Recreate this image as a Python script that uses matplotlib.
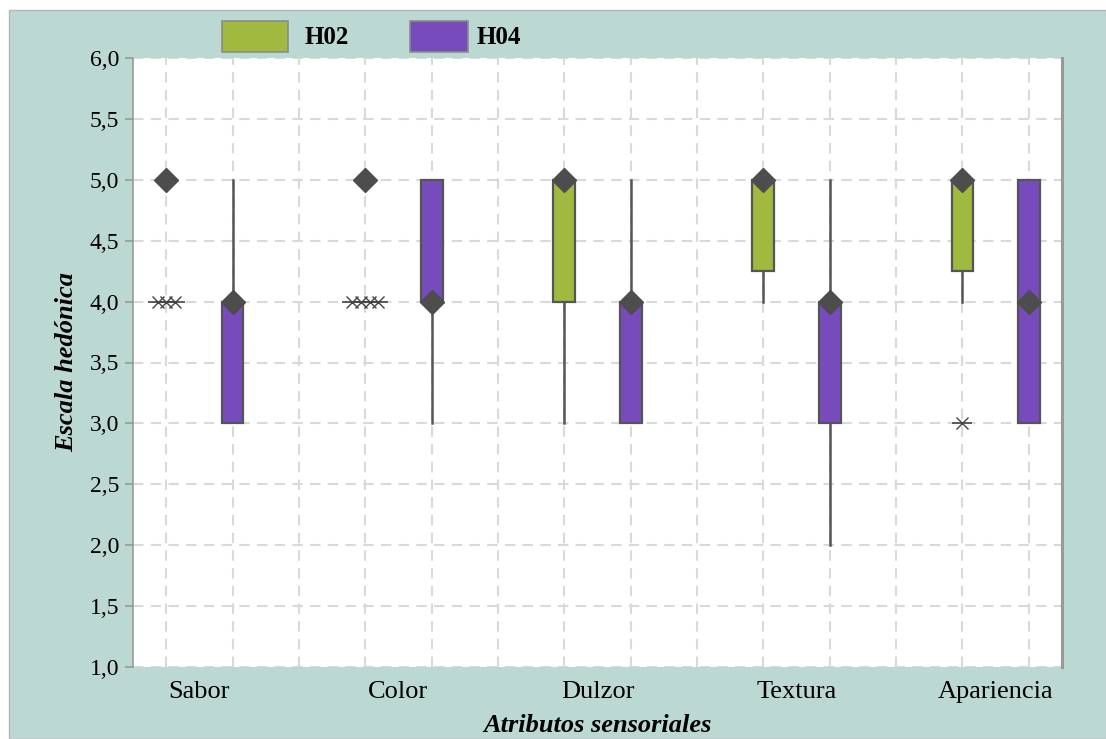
import matplotlib
matplotlib.use("Agg")
import matplotlib.pyplot as plt
from matplotlib.patches import Rectangle
from matplotlib.ticker import FuncFormatter

# Sensory attributes and hedonic-scale summaries for two samples
categories = ["Sabor", "Color", "Dulzor", "Textura", "Apariencia"]
series = ["H02", "H04"]

h02_q1 = [5.0, 5.0, 4.0, 4.25, 4.25]
h02_q3 = [5.0, 5.0, 5.0, 5.0, 5.0]
h02_lo = [5.0, 5.0, 3.0, 4.0, 4.0]
h02_hi = [5.0, 5.0, 5.0, 5.0, 5.0]
h02_center = [5.0, 5.0, 5.0, 5.0, 5.0]
h02_outliers = [[4.0, 4.0, 4.0], [4.0, 4.0, 4.0, 4.0], [], [], [3.0]]

h04_q1 = [3.0, 4.0, 3.0, 3.0, 3.0]
h04_q3 = [4.0, 5.0, 4.0, 4.0, 5.0]
h04_lo = [3.0, 3.0, 3.0, 2.0, 3.0]
h04_hi = [5.0, 5.0, 5.0, 5.0, 5.0]
h04_center = [4.0, 4.0, 4.0, 4.0, 4.0]
h04_outliers = [[], [], [], [], []]

y_ticks = [1.0, 1.5, 2.0, 2.5, 3.0, 3.5, 4.0, 4.5, 5.0, 5.5, 6.0]

colors = {"H02": "#9fba3e", "H04": "#774bbb"}
edge = "#555555"
teal = "#bcd8d3"

plt.rcParams["font.family"] = ["Liberation Serif", "DejaVu Serif"]

W, H = 1106, 739
fig = plt.figure(figsize=(W / 100, H / 100), dpi=100)
fig.patch.set_facecolor("white")

# teal panel behind everything
fig.add_artist(Rectangle((9 / W, 0), 1 - 9 / W, 1 - 10 / H, transform=fig.transFigure,
                         facecolor=teal, edgecolor="#b5b5b5", linewidth=1.0, zorder=-10))

ax = fig.add_axes([133 / W, 1 - 667 / H, (1062 - 133) / W, (667 - 58) / H])
ax.set_zorder(1)
ax.set_facecolor("white")
ax.set_xlim(0, 14)
ax.set_ylim(1.0, 6.0)


def make_stats(q1, q3, lo, hi, center):
    return [dict(q1=a, q3=b, whislo=c, whishi=d, med=e, mean=e, fliers=[])
            for a, b, c, d, e in zip(q1, q3, lo, hi, center)]


groups = {
    "H02": (make_stats(h02_q1, h02_q3, h02_lo, h02_hi, h02_center), h02_outliers),
    "H04": (make_stats(h04_q1, h04_q3, h04_lo, h04_hi, h04_center), h04_outliers),
}

box_w = 0.33
for k, name in enumerate(series):
    stats, outs = groups[name]
    pos = [3 * i + 0.5 + k for i in range(len(categories))]
    ax.bxp(stats, positions=pos, widths=box_w, patch_artist=True,
           showcaps=False, showmeans=True, showfliers=False,
           boxprops=dict(facecolor=colors[name], edgecolor=edge, linewidth=1.6),
           whiskerprops=dict(color=edge, linewidth=1.8),
           medianprops=dict(linewidth=0),
           meanprops=dict(marker="D", markersize=12, markerfacecolor="#4d4d4d",
                          markeredgecolor="#4d4d4d"),
           manage_ticks=False, zorder=3)
    # outliers, spread horizontally when several share a value
    for p, vals in zip(pos, outs):
        n = len(vals)
        for j, v in enumerate(vals):
            xo = p + (j - (n - 1) / 2) * 0.13
            ax.plot([xo], [v], marker="x", markersize=9, color="#444444",
                    markeredgewidth=1.0, zorder=4, linestyle="none")
            ax.plot([xo], [v], marker="_", markersize=14, color="#444444",
                    markeredgewidth=1.2, zorder=5, linestyle="none")

# grid
grid_kw = dict(color="#d9d9d9", linewidth=1.5, linestyle=(0, (5, 3.5)), zorder=1)
for y in y_ticks:
    ax.axhline(y, **grid_kw)
for x in [i + 0.5 for i in range(14)]:
    ax.axvline(x, **grid_kw)

# axes styling
ax.set_yticks(y_ticks)
ax.yaxis.set_major_formatter(FuncFormatter(lambda v, _: f"{v:.1f}".replace(".", ",")))
ax.set_xticks([3 * i + 1 for i in range(len(categories))])
ax.set_xticklabels(categories)
ax.tick_params(axis="x", length=0, labelsize=19, pad=10)
ax.tick_params(axis="y", length=6, width=1.2, color="#999999", labelsize=17, pad=4)
for s in ["top", "bottom"]:
    ax.spines[s].set_visible(False)
ax.spines["left"].set_color("#999999")
ax.spines["left"].set_linewidth(1.2)
ax.spines["right"].set_color("#999999")
ax.spines["right"].set_linewidth(2.2)

ax.set_xlabel("Atributos sensoriales", fontsize=19, fontweight="bold", style="italic", labelpad=8)
ax.set_ylabel("Escala hedónica", fontsize=19, fontweight="bold", style="italic", labelpad=8)

# legend drawn at the top of the panel
legend_items = [("H02", 222, 288, 305), ("H04", 410, 468, 477)]
for name, x0, x1, tx in legend_items:
    fig.add_artist(Rectangle((x0 / W, 1 - 52 / H), (x1 - x0) / W, 31 / H,
                             transform=fig.transFigure, facecolor=colors[name],
                             edgecolor="#8c8c8c", linewidth=1.2, zorder=2))
    fig.text(tx / W, 1 - 37 / H, name, fontsize=18, fontweight="bold",
             va="center", ha="left")

fig.savefig("out.png", dpi=100, facecolor=fig.get_facecolor())
